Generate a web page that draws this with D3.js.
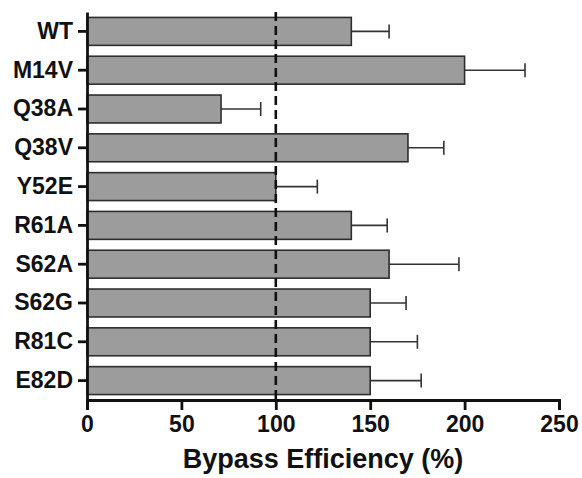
<!DOCTYPE html>
<html>
<head>
<meta charset="utf-8">
<script src="https://cdn.jsdelivr.net/npm/d3@7"></script>
<style>
  html, body { margin: 0; padding: 0; background: #fff; }
  svg { display: block; font-family: "Liberation Sans", Arial, Helvetica, sans-serif; }
</style>
</head>
<body>
<svg id="chart" width="582" height="478"></svg>
<script>
// Bypass efficiency per variant (mean and upper error bound, %)
const variants = ["WT", "M14V", "Q38A", "Q38V", "Y52E", "R61A", "S62A", "S62G", "R81C", "E82D"];
const efficiency = [140, 200, 71, 170, 100, 140, 160, 150, 150, 150];
const errorTop = [160, 232, 92, 189, 122, 159, 197, 169, 175, 177];
const xTicks = [0, 50, 100, 150, 200, 250];
const referenceLevel = 100;

const svg = d3.select("#chart");
const plotLeft = 87, plotRight = 559, plotTop = 12, plotBottom = 400;

const x = d3.scaleLinear().domain([0, 250]).range([plotLeft, plotRight]);
const y = d3.scaleBand().domain(variants).range([plotTop, plotBottom])
  .paddingInner(0.28).paddingOuter(0.14);

const rows = variants.map((v, i) => ({ name: v, value: efficiency[i], err: errorTop[i] }));

// error bars (drawn first so bars sit over the stem start)
const eb = svg.append("g").attr("stroke", "#333").attr("stroke-width", 1.6);
rows.forEach(d => {
  const cy = y(d.name) + y.bandwidth() / 2;
  eb.append("line").attr("x1", x(d.value)).attr("x2", x(d.err)).attr("y1", cy).attr("y2", cy);
  eb.append("line").attr("x1", x(d.err)).attr("x2", x(d.err)).attr("y1", cy - 7).attr("y2", cy + 7);
});

// bars
svg.append("g").selectAll("rect").data(rows).join("rect")
  .attr("x", x(0))
  .attr("y", d => y(d.name))
  .attr("width", d => x(d.value) - x(0))
  .attr("height", y.bandwidth())
  .attr("fill", "#9b9c9b")
  .attr("stroke", "#2e2e2e")
  .attr("stroke-width", 1.6);

// dashed reference line at 100%
svg.append("line")
  .attr("x1", x(referenceLevel)).attr("x2", x(referenceLevel))
  .attr("y1", plotTop).attr("y2", plotBottom)
  .attr("stroke", "#111").attr("stroke-width", 2.6)
  .attr("stroke-dasharray", "9,5");

// x axis
const xAxis = svg.append("g").attr("transform", `translate(0,${plotBottom})`)
  .call(d3.axisBottom(x).tickValues(xTicks).tickSize(10).tickPadding(6).tickFormat(d3.format("d")));
xAxis.select(".domain").attr("stroke", "#111").attr("stroke-width", 2.8);
xAxis.selectAll(".tick line").attr("stroke", "#111").attr("stroke-width", 2.8);
xAxis.selectAll(".tick text").attr("fill", "#111").style("font-size", "23px").style("font-weight", "bold")
  .attr("font-family", "Liberation Sans, Arial, sans-serif");

// y axis
const yAxis = svg.append("g").attr("transform", `translate(${plotLeft},0)`)
  .call(d3.axisLeft(y).tickSize(9).tickPadding(5).tickSizeOuter(0));
yAxis.select(".domain").attr("stroke", "#111").attr("stroke-width", 2.8);
yAxis.selectAll(".tick line").attr("stroke", "#111").attr("stroke-width", 2.8);
yAxis.selectAll(".tick text").attr("fill", "#111").style("font-size", "23px").style("font-weight", "bold")
  .attr("font-family", "Liberation Sans, Arial, sans-serif");

// axis title
svg.append("text")
  .attr("x", (x(0) + x(250)) / 2)
  .attr("y", 468)
  .attr("text-anchor", "middle")
  .attr("fill", "#111")
  .style("font-size", "27px").style("font-weight", "bold")
  .text("Bypass Efficiency (%)");
</script>
</body>
</html>
